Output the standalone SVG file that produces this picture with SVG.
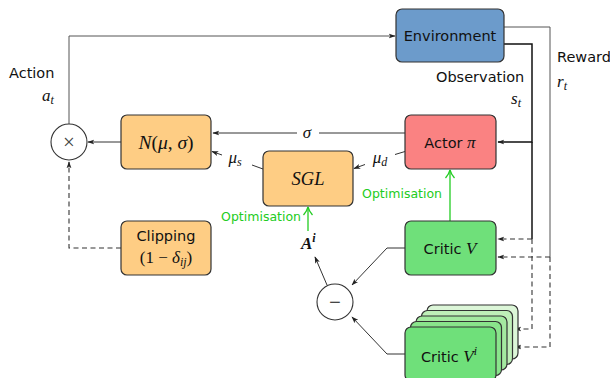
<svg xmlns="http://www.w3.org/2000/svg" width="610" height="378" viewBox="0 0 610 378">
<defs>
<style>
.box{stroke:#333;stroke-width:1.2}
.env{fill:#6c9bcb}
.act{fill:#fa8282}
.org{fill:#fecd84}
.grn{fill:#6fe07a}
.t{font-family:"DejaVu Sans",sans-serif;font-size:14.5px;fill:#111}
.m{font-family:"Liberation Serif",serif;font-style:italic;font-size:17px;fill:#111}
.mr{font-family:"Liberation Serif",serif;font-size:17px;fill:#111}
.g{font-family:"DejaVu Sans",sans-serif;font-size:12.5px;fill:#22cc22}
.c{fill:none;stroke:#333;stroke-width:1}
.cg{fill:none;stroke:#555;stroke-width:1}
.ck{fill:none;stroke:#111;stroke-width:1.5}
.d{fill:none;stroke:#333;stroke-width:1.1;stroke-dasharray:5,3.5}
.gl{fill:none;stroke:#22cc22;stroke-width:1.3}
</style>
<marker id="arr" viewBox="0 0 10 10" refX="9" refY="5" markerWidth="7" markerHeight="7" markerUnits="userSpaceOnUse" orient="auto"><path d="M0,1.5 L10,5 L0,8.5 L2.5,5 z" fill="#222"/></marker>
<marker id="garr" viewBox="0 0 10 10" refX="9" refY="5" markerWidth="10" markerHeight="10" markerUnits="userSpaceOnUse" orient="auto"><path d="M1,0.5 Q5,4 9,5 Q5,6 1,9.5" fill="none" stroke="#22cc22" stroke-width="1.3"/></marker>
</defs>

<g id="connectors">
<path class="cg" d="M69,124 V36 H395" marker-end="url(#arr)"/>
<path class="ck" d="M504,44 H532 V142 H498" marker-end="url(#arr)"/>
<path class="ck" d="M532,142 V239"/>
<path class="d" d="M532,239 H498" marker-end="url(#arr)"/>
<path class="d" d="M532,239 V329 H515" marker-end="url(#arr)"/>
<path class="cg" d="M504,27 H550 V257"/>
<path class="d" d="M550,257 H498" marker-end="url(#arr)"/>
<path class="d" d="M550,257 V347 H515" marker-end="url(#arr)"/>
<path class="c" d="M121,142 H88" marker-end="url(#arr)"/>
<path class="d" d="M121,248 H69 V162" marker-end="url(#arr)"/>
<path class="c" d="M405,133 H319"/>
<path class="c" d="M297,133 H213" marker-end="url(#arr)"/>
<path class="c" d="M405,151.5 L395,154.5"/>
<path class="c" d="M365,164.5 L354,168.5" marker-end="url(#arr)"/>
<path class="c" d="M263,169 L252,165"/>
<path class="c" d="M222,155 L212,151.5" marker-end="url(#arr)"/>
<path class="c" d="M405,248 H387 L352,285" marker-end="url(#arr)"/>
<path class="c" d="M405,354 H387 L352,317" marker-end="url(#arr)"/>
<path class="c" d="M327,285 L315,257" marker-end="url(#arr)"/>
<path class="gl" d="M308,231 V207" marker-end="url(#garr)"/>
<path class="gl" d="M450,221 V170" marker-end="url(#garr)"/>
<text class="g" x="301" y="221" text-anchor="end">Optimisation</text>
<text class="g" x="442" y="198" text-anchor="end">Optimisation</text>
<text class="m" x="307" y="138" text-anchor="middle">σ</text>
<text class="m" x="235" y="163" text-anchor="middle">μ<tspan style="font-size:12px" dy="3">s</tspan></text>
<text class="m" x="380" y="163" text-anchor="middle">μ<tspan style="font-size:12px" dy="3">d</tspan></text>
<text class="t" x="9" y="78">Action</text>
<text class="m" x="42" y="101">a<tspan style="font-size:12px" dy="3">t</tspan></text>
<text class="t" x="436" y="82">Observation</text>
<text class="m" x="511" y="104">s<tspan style="font-size:12px" dy="3">t</tspan></text>
<text class="t" x="557" y="62">Reward</text>
<text class="m" x="557" y="87">r<tspan style="font-size:12px" dy="3">t</tspan></text>
<text class="m" x="301" y="249" font-weight="bold">A<tspan style="font-size:12px" dy="-7">i</tspan></text>
</g>

<g id="environment">
<rect class="box env" x="396" y="9" width="108" height="53" rx="6"/>
<text class="t" x="450" y="41" text-anchor="middle">Environment</text>
</g>

<g id="actor">
<rect class="box act" x="405" y="115" width="91" height="54" rx="6"/>
<text class="t" x="450" y="148" text-anchor="middle">Actor <tspan class="m">π</tspan></text>
</g>

<g id="normal">
<rect class="box org" x="121" y="115" width="90" height="54" rx="6"/>
<text class="m" x="166" y="149" text-anchor="middle" style="font-size:19.5px">N<tspan font-style="normal">(</tspan>μ<tspan font-style="normal">,</tspan> σ<tspan font-style="normal">)</tspan></text>
</g>

<g id="sgl">
<rect class="box org" x="263" y="151" width="90" height="55" rx="6"/>
<text class="m" x="308" y="185" text-anchor="middle" style="font-size:18.5px">SGL</text>
</g>

<g id="clipping">
<rect class="box org" x="121" y="221" width="90" height="54" rx="6"/>
<text class="t" x="166" y="241" text-anchor="middle">Clipping</text>
<text class="mr" x="166" y="263" text-anchor="middle">(1 − <tspan font-style="italic">δ</tspan><tspan font-style="italic" style="font-size:12px" dy="3">ij</tspan><tspan dy="-3">)</tspan></text>
</g>

<g id="critic-v">
<rect class="box grn" x="405" y="221" width="91" height="54" rx="6"/>
<text class="t" x="450" y="254" text-anchor="middle">Critic <tspan class="m">V</tspan></text>
</g>

<g id="critic-vi">
<rect class="box" fill="#dcf6d8" x="427" y="305" width="91" height="54" rx="6"/>
<rect class="box" fill="#bfefb8" x="421.5" y="310.5" width="91" height="54" rx="6"/>
<rect class="box" fill="#a4e9a0" x="416" y="316" width="91" height="54" rx="6"/>
<rect class="box" fill="#89e48b" x="410.5" y="321.5" width="91" height="54" rx="6"/>
<rect class="box grn" x="405" y="327" width="91" height="54" rx="6"/>
<text class="t" x="449" y="362" text-anchor="middle">Critic <tspan class="m">V</tspan><tspan class="m" style="font-size:12px" dy="-7">i</tspan></text>
</g>

<g id="multiply">
<circle cx="69" cy="142" r="18" fill="#fff" stroke="#333" stroke-width="1.1"/>
<text class="mr" x="69" y="149" text-anchor="middle" style="font-size:21px;fill:#444">×</text>
</g>

<g id="minus">
<circle cx="335" cy="302" r="18" fill="#fff" stroke="#333" stroke-width="1.1"/>
<text class="mr" x="335" y="309" text-anchor="middle" style="font-size:21px">−</text>
</g>
</svg>
